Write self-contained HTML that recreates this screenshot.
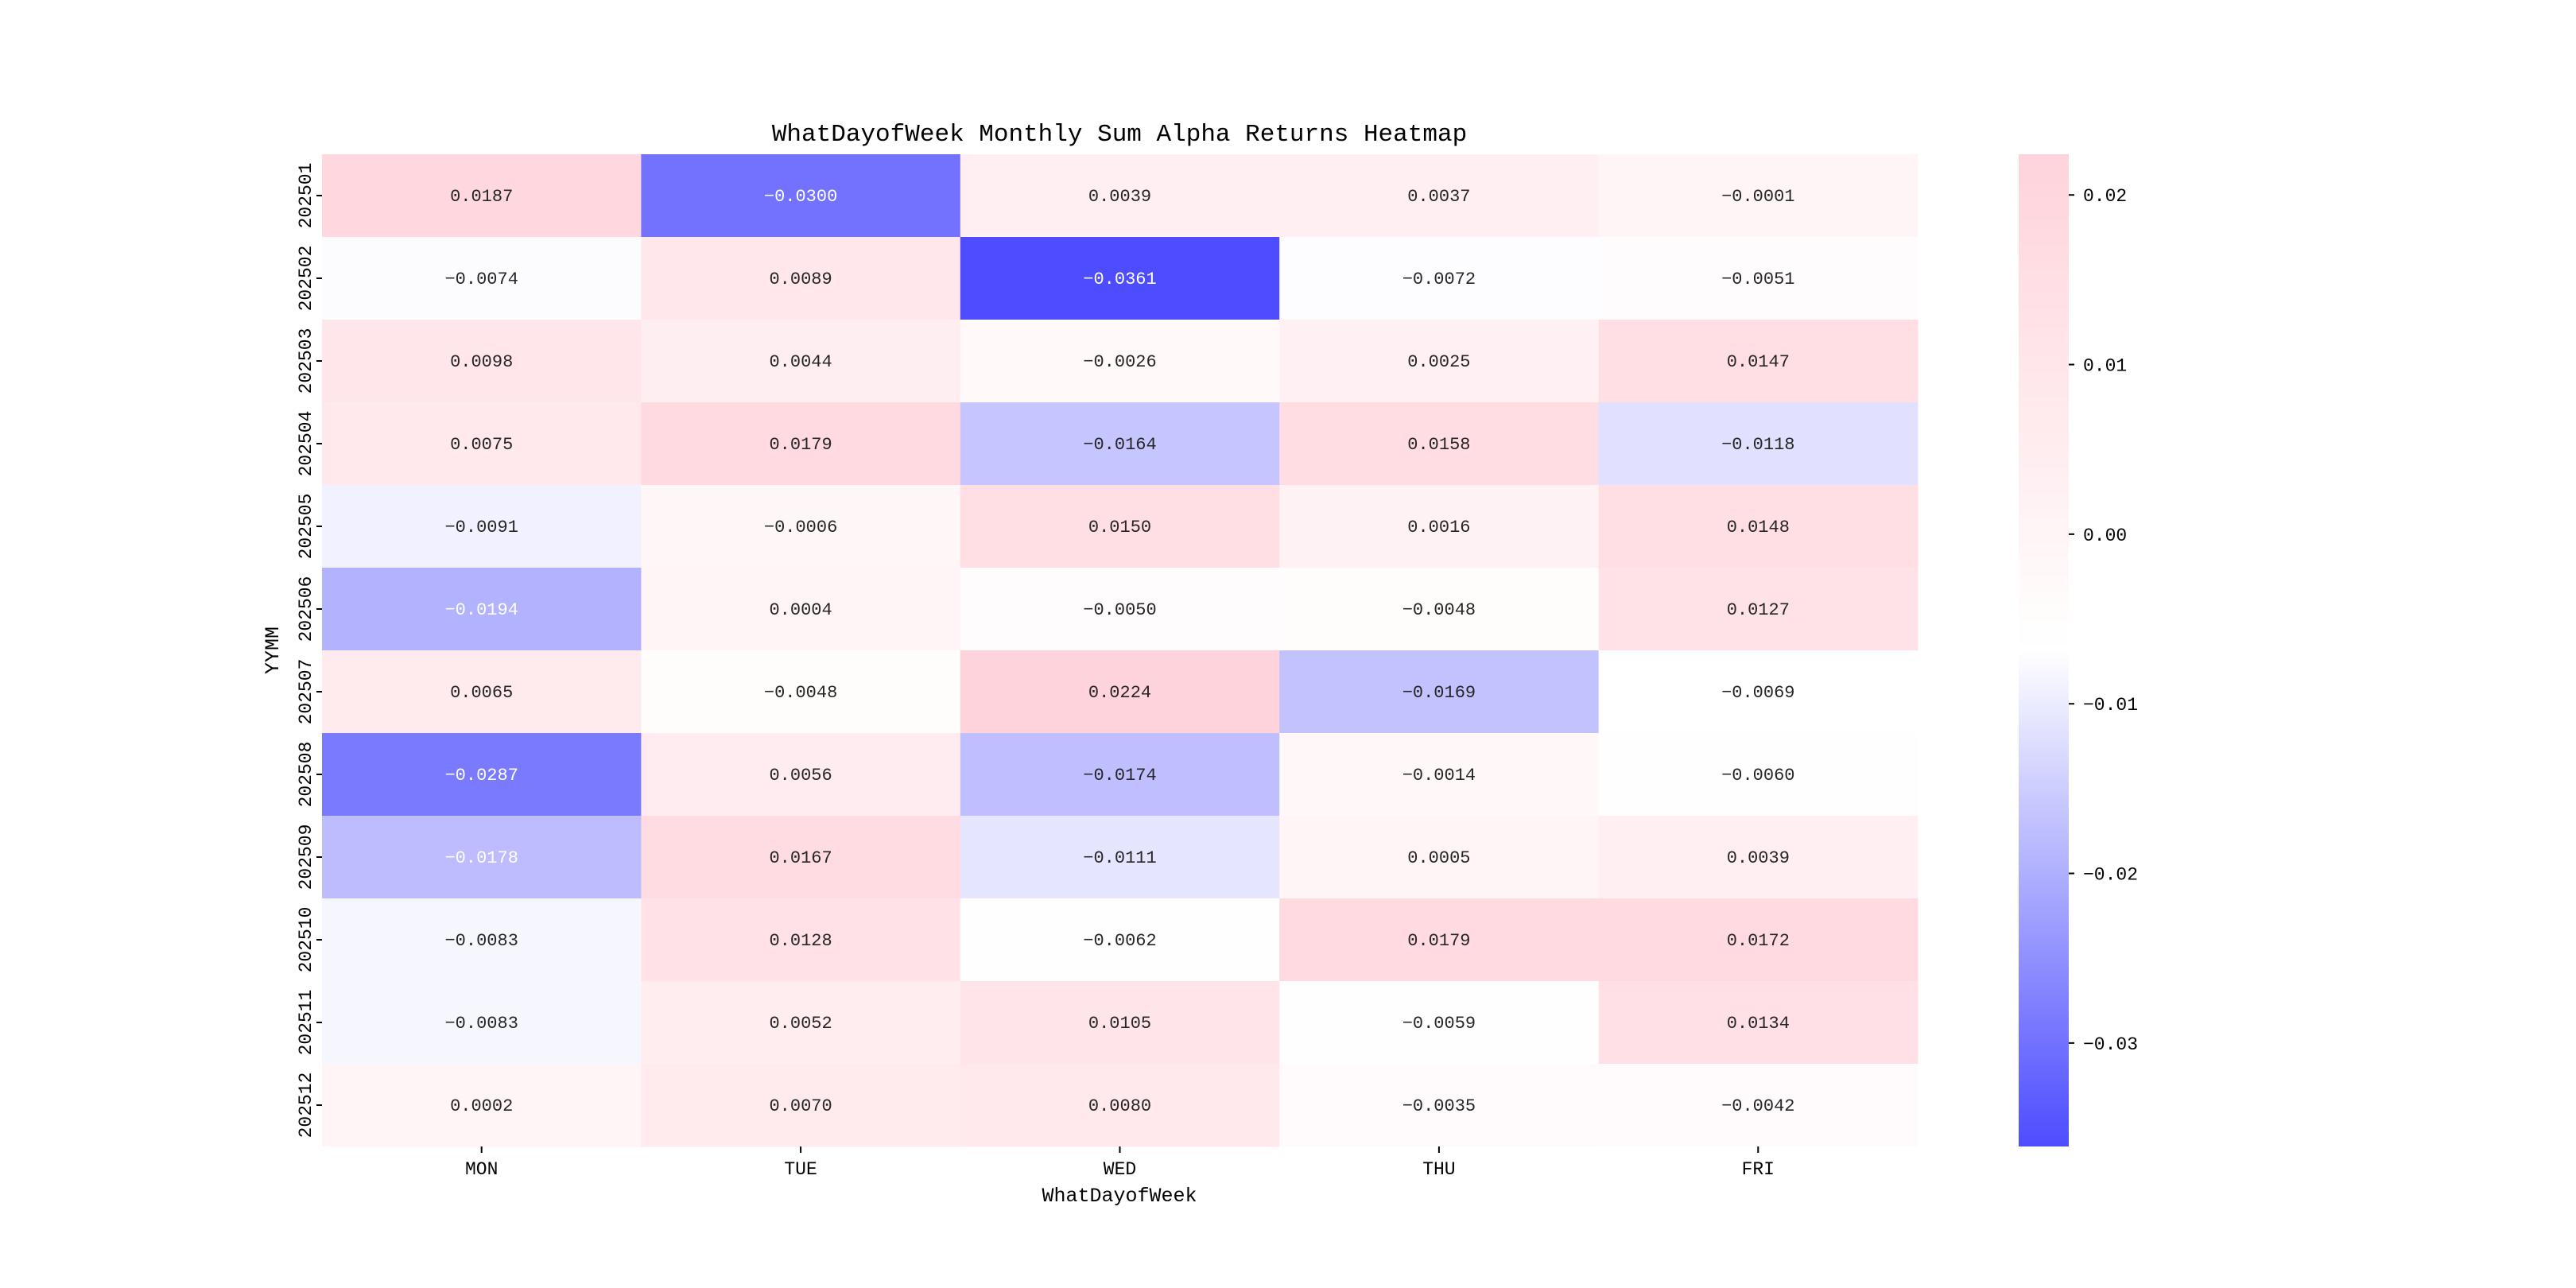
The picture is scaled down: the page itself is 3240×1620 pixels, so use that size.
<!DOCTYPE html>
<html><head><meta charset="utf-8"><style>
html,body{margin:0;padding:0;background:#fff;}
svg{display:block;font-family:"Liberation Mono","WenQuanYi Zen Hei",monospace;}
</style></head><body>
<svg id="chart" width="3240" height="1620" viewBox="0 0 3240 1620" xmlns="http://www.w3.org/2000/svg">
<rect width="3240" height="1620" fill="#fff"/>
<text x="1408" y="177" font-size="31" text-anchor="middle" fill="#000">WhatDayofWeek Monthly Sum Alpha Returns Heatmap</text>
<g id="cells"></g>
<g id="yticks"></g>
<g id="xticks"></g>
<text x="1408" y="1511" font-size="25" text-anchor="middle" fill="#000">WhatDayofWeek</text>
<text transform="translate(350,818) rotate(-90)" font-size="25" text-anchor="middle" fill="#000">YYMM</text>
<defs><linearGradient id="cbg" x1="0" y1="1" x2="0" y2="0"></linearGradient></defs>
<rect id="cbar" x="2539" y="194" width="63" height="1248" fill="url(#cbg)"/>
<g id="cticks"></g>
</svg>
<script>
const rows = ["202501","202502","202503","202504","202505","202506","202507","202508","202509","202510","202511","202512"];
const cols = ["MON","TUE","WED","THU","FRI"];
const mon = [0.0187,-0.0074,0.0098,0.0075,-0.0091,-0.0194,0.0065,-0.0287,-0.0178,-0.0083,-0.0083,0.0002];
const tue = [-0.0300,0.0089,0.0044,0.0179,-0.0006,0.0004,-0.0048,0.0056,0.0167,0.0128,0.0052,0.0070];
const wed = [0.0039,-0.0361,-0.0026,-0.0164,0.0150,-0.0050,0.0224,-0.0174,-0.0111,-0.0062,0.0105,0.0080];
const thu = [0.0037,-0.0072,0.0025,0.0158,0.0016,-0.0048,-0.0169,-0.0014,0.0005,0.0179,-0.0059,-0.0035];
const fri = [-0.0001,-0.0051,0.0147,-0.0118,0.0148,0.0127,-0.0069,-0.0060,0.0039,0.0172,0.0134,-0.0042];
const cbTicks = [0.02,0.01,0.00,-0.01,-0.02,-0.03];
const cbLabels = ["0.02","0.01","0.00","\u22120.01","\u22120.02","\u22120.03"];

const series = [mon,tue,wed,thu,fri];
const NS = "http://www.w3.org/2000/svg";
const L=405,R=2412,T=194,B=1442;
const all = series.flat();
const vmin = Math.min(...all), vmax = Math.max(...all);
const cw=(R-L)/cols.length, rh=(B-T)/rows.length;
function xPos(i){return L+i*cw;}
function yPos(j){return T+j*rh;}
function lerp(a,b,t){return a+(b-a)*t;}
function color(v){
  const t=(v-vmin)/(vmax-vmin);
  let c;
  if(t<0.5){const u=t/0.5;c=[lerp(0,255,u),lerp(0,255,u),255];}
  else{const u=(t-0.5)/0.5;c=[255,lerp(255,192,u),lerp(255,203,u)];}
  c=c.map(x=>Math.round(0.7*x+0.3*255));
  return `rgb(${c[0]},${c[1]},${c[2]})`;
}
function lum(v){return (v-vmin)/(vmax-vmin);}
function mk(tag,attrs,parent){const e=document.createElementNS(NS,tag);for(const k in attrs)e.setAttribute(k,attrs[k]);parent.appendChild(e);return e;}
function fmt(v){return (v<0?"\u2212":"")+Math.abs(v).toFixed(4);}
const cells=document.getElementById('cells');
series.forEach((s,i)=>{s.forEach((v,j)=>{
  const r=mk('rect',{x:xPos(i),y:yPos(j),width:cw+0.5,height:rh+0.5,fill:color(v)},cells);
  
  
  const t=mk('text',{x:xPos(i)+cw/2,y:yPos(j)+rh/2+7,'font-size':22,'text-anchor':'middle',fill:lum(v)<0.316?'#fff':'#262626'},cells);
  t.textContent=fmt(v);
  
  
});});
const yt=document.getElementById('yticks');
rows.forEach((r,j)=>{
  const y=yPos(j)+rh/2;
  mk('line',{x1:L-7,x2:L,y1:y,y2:y,stroke:'#000','stroke-width':2},yt);
  const t=mk('text',{transform:`translate(${L-14},${y}) rotate(-90)`,'font-size':23,'text-anchor':'middle',fill:'#000'},yt);
  t.textContent=r;
  
  
});
const xt=document.getElementById('xticks');
cols.forEach((c,i)=>{
  const x=xPos(i)+cw/2;
  mk('line',{x1:x,x2:x,y1:B,y2:B+8,stroke:'#000','stroke-width':2},xt);
  const t=mk('text',{x:x,y:B+35,'font-size':23,'text-anchor':'middle',fill:'#000'},xt);
  t.textContent=c;
  
  
});
const g=document.getElementById('cbg');
for(let k=0;k<=20;k++){const v=vmin+(vmax-vmin)*k/20;mk('stop',{offset:(k/20),'stop-color':color(v)},g);}
const ct=document.getElementById('cticks');
function cy(v){return T+(vmax-v)/(vmax-vmin)*(B-T);}
cbTicks.forEach((v,k)=>{
  const y=cy(v);
  mk('line',{x1:2602,x2:2609,y1:y,y2:y,stroke:'#000','stroke-width':2},ct);
  const t=mk('text',{x:2620,y:y+8,'font-size':23,fill:'#000'},ct);
  t.textContent=cbLabels[k];
  
  
});
</script>
</body></html>
